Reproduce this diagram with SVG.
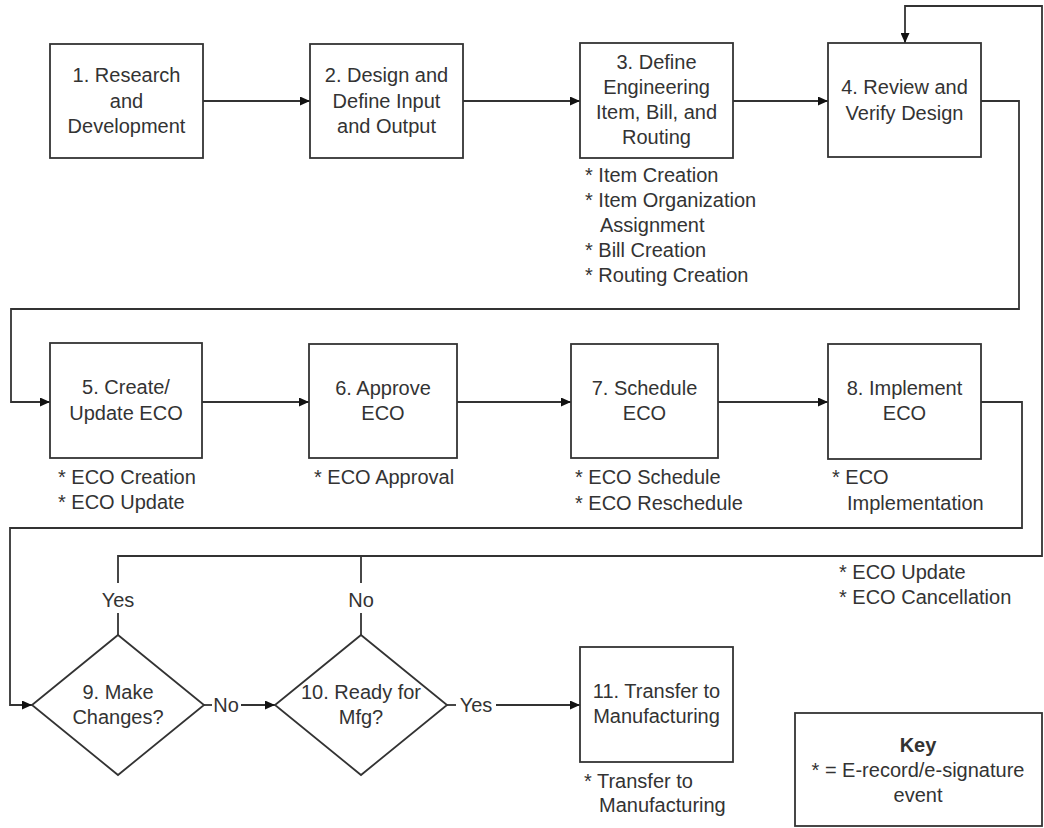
<svg xmlns="http://www.w3.org/2000/svg" width="1044" height="828" viewBox="0 0 1044 828">
<defs>
<marker id="arr" markerWidth="11" markerHeight="9" refX="10" refY="4.5" orient="auto" markerUnits="userSpaceOnUse">
<path d="M0,0 L10,4.5 L0,9 z" fill="#111"/>
</marker>
<style>
.box{fill:#fff;stroke:#333;stroke-width:1.8}
.t{font-family:"Liberation Sans",Arial,sans-serif;font-size:20px;fill:#333}
.c{text-anchor:middle}
.b{font-weight:bold}
.ln{fill:none;stroke:#333;stroke-width:1.8}
.la{fill:none;stroke:#333;stroke-width:1.8;marker-end:url(#arr)}
</style>
</defs>
<rect width="1044" height="828" fill="#fff"/>
<g id="connectors">
<path class="la" d="M203,101 H310"/>
<path class="la" d="M463,101 H580"/>
<path class="la" d="M733,101 H828"/>
<path class="la" d="M981,101 H1019 V309 H11 V402 H50"/>
<path class="la" d="M202,402 H309"/>
<path class="la" d="M457,402 H571"/>
<path class="la" d="M718,402 H828"/>
<path class="la" d="M981,402 H1022 V528 H10 V705 H32"/>
<path class="ln" d="M118,635 V613"/>
<path class="la" d="M118,583 V556 H1042 V6 H905 V43"/>
<path class="ln" d="M361,635 V613"/>
<path class="ln" d="M361,583 V556"/>
<path class="ln" d="M204,705 H212"/>
<path class="la" d="M241,705 H275"/>
<path class="ln" d="M447,705 H456"/>
<path class="la" d="M496,705 H580"/>
<text class="t c" x="118" y="607">Yes</text>
<text class="t c" x="361" y="607">No</text>
<text class="t c" x="226" y="712">No</text>
<text class="t c" x="476" y="712">Yes</text>
<text class="t" x="839" y="579">* ECO Update</text>
<text class="t" x="839" y="604">* ECO Cancellation</text>
</g>
<g id="n1">
<rect class="box" x="50" y="44" width="153" height="114"/>
<text class="t c" x="126.5" y="82">1. Research</text>
<text class="t c" x="126.5" y="108">and</text>
<text class="t c" x="126.5" y="133">Development</text>
</g>
<g id="n2">
<rect class="box" x="310" y="44" width="153" height="114"/>
<text class="t c" x="386.5" y="82">2. Design and</text>
<text class="t c" x="386.5" y="108">Define Input</text>
<text class="t c" x="386.5" y="133">and Output</text>
</g>
<g id="n3">
<rect class="box" x="580" y="43" width="153" height="115"/>
<text class="t c" x="656.5" y="69">3. Define</text>
<text class="t c" x="656.5" y="94">Engineering</text>
<text class="t c" x="656.5" y="119">Item, Bill, and</text>
<text class="t c" x="656.5" y="144">Routing</text>
<text class="t" x="585" y="182">* Item Creation</text>
<text class="t" x="585" y="207">* Item Organization</text>
<text class="t" x="600" y="232">Assignment</text>
<text class="t" x="585" y="257">* Bill Creation</text>
<text class="t" x="585" y="282">* Routing Creation</text>
</g>
<g id="n4">
<rect class="box" x="828" y="43" width="153" height="114"/>
<text class="t c" x="904.5" y="94">4. Review and</text>
<text class="t c" x="904.5" y="120">Verify Design</text>
</g>
<g id="n5">
<rect class="box" x="50" y="343" width="152" height="115"/>
<text class="t c" x="126" y="394">5. Create/</text>
<text class="t c" x="126" y="420">Update ECO</text>
<text class="t" x="58" y="484">* ECO Creation</text>
<text class="t" x="58" y="509">* ECO Update</text>
</g>
<g id="n6">
<rect class="box" x="309" y="344" width="148" height="114"/>
<text class="t c" x="383" y="395">6. Approve</text>
<text class="t c" x="383" y="420">ECO</text>
<text class="t" x="314" y="484">* ECO Approval</text>
</g>
<g id="n7">
<rect class="box" x="571" y="344" width="147" height="114"/>
<text class="t c" x="644.5" y="395">7. Schedule</text>
<text class="t c" x="644.5" y="420">ECO</text>
<text class="t" x="575" y="484">* ECO Schedule</text>
<text class="t" x="575" y="510">* ECO Reschedule</text>
</g>
<g id="n8">
<rect class="box" x="828" y="344" width="153" height="115"/>
<text class="t c" x="904.5" y="395">8. Implement</text>
<text class="t c" x="904.5" y="420">ECO</text>
<text class="t" x="832" y="484">* ECO</text>
<text class="t" x="847" y="510">Implementation</text>
</g>
<g id="n9">
<polygon class="box" points="118,635 204,705 118,775 32,705"/>
<text class="t c" x="118" y="699">9. Make</text>
<text class="t c" x="118" y="724">Changes?</text>
</g>
<g id="n10">
<polygon class="box" points="361,635 447,705 361,775 275,705"/>
<text class="t c" x="361" y="699">10. Ready for</text>
<text class="t c" x="361" y="724">Mfg?</text>
</g>
<g id="n11">
<rect class="box" x="580" y="647" width="153" height="115"/>
<text class="t c" x="656.5" y="698">11. Transfer to</text>
<text class="t c" x="656.5" y="723">Manufacturing</text>
<text class="t" x="584" y="788">* Transfer to</text>
<text class="t" x="599" y="812">Manufacturing</text>
</g>
<g id="key">
<rect class="box" x="795" y="713" width="247" height="113"/>
<text class="t c b" x="918" y="752">Key</text>
<text class="t c" x="918" y="777">* = E-record/e-signature</text>
<text class="t c" x="918" y="802">event</text>
</g>
</svg>
